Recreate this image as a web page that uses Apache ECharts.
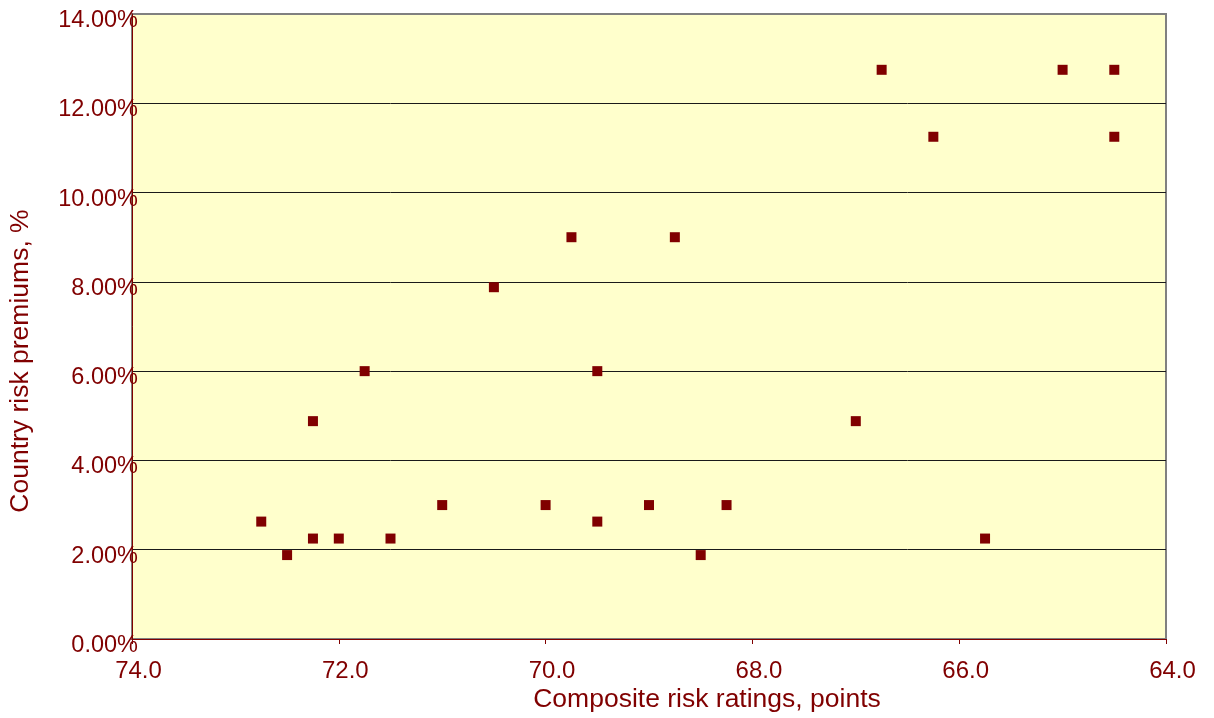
<!DOCTYPE html>
<html>
<head>
<meta charset="utf-8">
<script src="https://cdn.jsdelivr.net/npm/echarts@6/dist/echarts.min.js"></script>
<style>
  html, body { margin: 0; padding: 0; background: #ffffff; }
  #chart { width: 1214px; height: 718px; }
</style>
</head>
<body>
<div id="chart"></div>
<script>
// Composite risk rating (points) against country risk premium (%)
const ratings = [72.75, 72.5, 72.25, 72.25, 72.0, 71.75, 71.5, 71.0, 70.5, 70.0,
                 69.75, 69.5, 69.5, 69.0, 68.75, 68.5, 68.25, 67.0, 66.75, 66.25,
                 65.75, 65.0, 64.5, 64.5];
const premiums = [2.63, 1.88, 4.88, 2.25, 2.25, 6.0, 2.25, 3.0, 7.88, 3.0,
                  9.0, 6.0, 2.63, 3.0, 9.0, 1.88, 3.0, 4.88, 12.75, 11.25,
                  2.25, 12.75, 12.75, 11.25];
const xTitle = 'Composite risk ratings, points';
const yTitle = 'Country risk premiums, %';

const points = ratings.map((r, i) => [r, premiums[i]]);
const textColor = '#800000';
const font = '"Liberation Sans", Arial, sans-serif';

const chart = echarts.init(document.getElementById('chart'), null, { renderer: 'canvas' });
chart.setOption({
  backgroundColor: '#ffffff',
  animation: false,
  grid: {
    left: 132, right: 48, top: 14, bottom: 79,
    show: true,
    backgroundColor: '#FFFFCC',
    borderColor: '#808080',
    borderWidth: 2
  },
  xAxis: {
    type: 'value',
    inverse: true,
    min: 64, max: 74, interval: 2,
    axisLine: { show: true, onZero: false, lineStyle: { color: textColor, width: 1 } },
    axisTick: { show: true, inside: false, length: 5, lineStyle: { color: textColor } },
    splitLine: { show: false },
    axisLabel: {
      color: textColor, fontFamily: font, fontSize: 24, margin: 20,
      padding: [0, 0, 0, 13],
      formatter: v => v.toFixed(1)
    }
  },
  yAxis: {
    type: 'value',
    min: 0, max: 14, interval: 2,
    axisLine: { show: true, lineStyle: { color: textColor, width: 1 } },
    axisTick: { show: false },
    splitLine: { show: true, showMaxLine: false, lineStyle: { color: '#1a1a1a', width: 1 } },
    axisLabel: {
      color: textColor, fontFamily: font, fontSize: 23.5, margin: -6,
      verticalAlign: 'top', lineHeight: 13,
      formatter: v => v.toFixed(2) + '%'
    }
  },
  graphic: [
    {
      type: 'text', x: 707, y: 700,
      style: { text: xTitle, fill: textColor, font: '26.5px ' + font, align: 'center', verticalAlign: 'middle' }
    },
    {
      type: 'text', x: 21, y: 361, rotation: Math.PI / 2,
      style: { text: yTitle, fill: textColor, font: '26.5px ' + font, align: 'center', verticalAlign: 'middle' }
    }
  ],
  series: [{
    type: 'scatter',
    data: points,
    symbol: 'rect',
    symbolSize: 10,
    itemStyle: { color: '#800000', opacity: 1 },
    z: 5
  }]
});
</script>
</body>
</html>
